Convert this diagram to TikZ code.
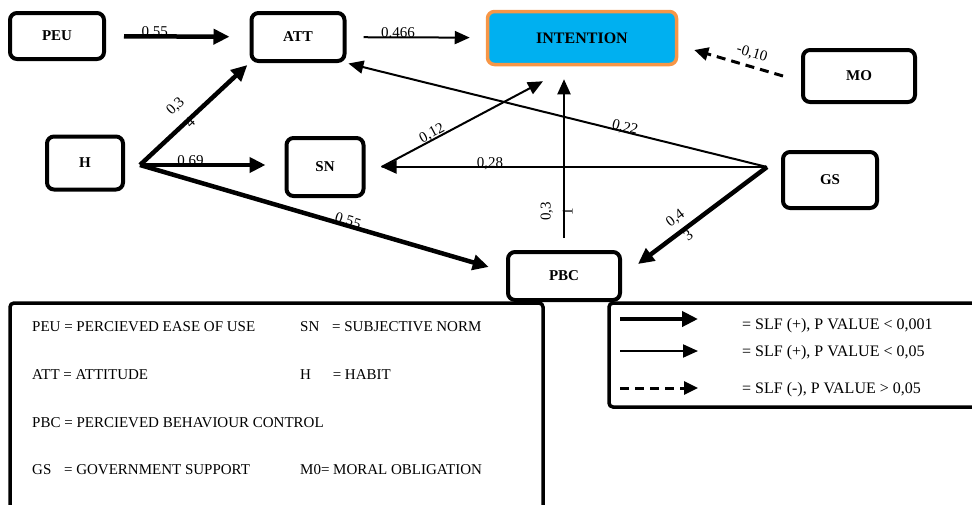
\documentclass[tikz,border=0pt]{standalone}
\usepackage{fontspec}
\setmainfont{Liberation Serif}
\usetikzlibrary{arrows.meta, positioning, calc}

\definecolor{intfill}{RGB}{0,176,240}
\definecolor{intedge}{RGB}{247,150,70}

\tikzset{
  construct/.style={draw, line width=4pt, rounded corners=7pt, inner sep=0pt,
    font=\fontsize{15}{18}\selectfont\bfseries},
  strong/.style={line width=4.5pt, -{Triangle[length=16pt,width=15pt]}},
  weak/.style={line width=2pt, -{Triangle[length=15pt,width=13pt]}},
  insig/.style={line width=3pt, dash pattern=on 9pt off 6pt, -{Triangle[length=14pt,width=13pt]}},
  coef/.style={font=\fontsize{15}{18}\selectfont, inner sep=0pt, sloped, anchor=base},
  split/.style={coef, anchor=center, yshift=6pt},
  keytext/.style={font=\fontsize{15}{18}\selectfont, anchor=west, inner sep=0pt},
  keybox/.style={line width=3.5pt, rounded corners=4pt},
}

\begin{document}
\begin{tikzpicture}[x=1pt, y=-1pt]
    \useasboundingbox (0,0) rectangle (972,504);

    % Constructs
    \node[construct, minimum width=94pt, minimum height=46pt] (PEU) at (57,36) {PEU};
    \node[construct, minimum width=93pt, minimum height=48pt] (ATT) at (298,37) {ATT};
    \node[construct, draw=intedge, fill=intfill, line width=3.5pt, font=\fontsize{16}{19}\selectfont\bfseries,
          minimum width=189pt, minimum height=53pt] (INT) at (582,38) {INTENTION};
    \node[construct, minimum width=112pt, minimum height=52pt] (MO) at (859,76) {MO};
    \node[construct, minimum width=76pt, minimum height=53pt] (H) at (85,163) {H};
    \node[construct, minimum width=77pt, minimum height=58pt] (SN) at (325,167) {SN};
    \node[construct, minimum width=94pt, minimum height=56pt] (GS) at (830,180) {GS};
    \node[construct, minimum width=112pt, minimum height=48pt] (PBC) at (564,276) {PBC};

    % Branch points
    \coordinate (Hhub) at (140,165);
    \coordinate (GShub) at (767,167);

    % Paths
    \draw[strong, shorten <=18pt, shorten >=20pt] (PEU) -- node[coef, pos=.34] {0,55} (ATT);
    \draw[weak, shorten <=17pt, shorten >=16pt] (ATT) -- node[coef, pos=.37] {0.466} (INT);
    \draw[insig] ([xshift=-18pt]MO.west) -- node[coef, pos=.39, yshift=9pt] {-0,10} ([shift={(16pt,-12pt)}]INT.east);

    \draw[strong, shorten >=3pt] (Hhub) -- node[split, pos=.44, yshift=1pt]
        {\begin{tabular}{@{}c@{}}0,3\\[4pt]4\end{tabular}} (ATT.south west);
    \draw[strong, shorten >=19pt] (Hhub) -- node[coef, pos=.35] {0.69} (Hhub -| SN.west);
    \draw[strong, shorten >=18pt] (Hhub) -- node[coef, pos=.565] {0,55} ([yshift=4pt]PBC.west);

    \draw[weak, shorten >=2pt] (GShub) -- node[coef, pos=.34] {0,22} (ATT.south east);
    \draw[weak, shorten >=16pt] (GShub) -- node[coef, pos=.69] {0,28} (GShub -| SN.east);
    \draw[strong, shorten >=20pt] (GShub) -- node[split, pos=.573, yshift=-3.5pt]
        {\begin{tabular}{@{}c@{}}0,4\\[4pt]3\end{tabular}} (PBC.east);

    \draw[weak] ([xshift=16pt]SN.east) -- node[coef, pos=.33, yshift=2pt] {0,12} ([shift={(-39pt,-15pt)}]INT.south);
    \draw[weak, shorten <=12pt, shorten >=13pt] (PBC.north) -- node[split, pos=.21]
        {\begin{tabular}{@{}c@{}}0,3\\[4pt]1\end{tabular}} (PBC.north |- INT.south);

    % Key of abbreviations
    \draw[keybox] (10,303) rectangle (543,530);
    \node[keytext] (kPEU) at (32,327) {PEU = PERCIEVED EASE OF USE};
    \node[keytext] (kSN) at (300,327) {SN\hspace{9pt} = SUBJECTIVE NORM};
    \node[keytext] (kATT) at (32,375) {ATT = ATTITUDE};
    \node[keytext] (kH) at (300,375) {H\hspace{18pt} = HABIT};
    \node[keytext] (kPBC) at (32,423) {PBC = PERCIEVED BEHAVIOUR CONTROL};
    \node[keytext] (kGS) at (32,470) {GS\hspace{9pt} = GOVERNMENT SUPPORT};
    \node[keytext] (kMO) at (300,470) {M0= MORAL OBLIGATION};

    % Key of arrows
    \draw[keybox] (609,303) rectangle (990,407);
    \node[keytext, font=\fontsize{16}{19}\selectfont] (kStrong) at (742,326) {= SLF (+), P VALUE < 0,001};
    \node[keytext, font=\fontsize{16}{19}\selectfont] (kWeak) at (742,353) {= SLF (+), P VALUE < 0,05};
    \node[keytext, font=\fontsize{16}{19}\selectfont] (kInsig) at (742,390) {= SLF (-), P VALUE > 0,05};
    \draw[strong] ([shift={(-122pt,7pt)}]kStrong.west) -- ([shift={(-44pt,7pt)}]kStrong.west);
    \draw[weak] ([shift={(-122pt,2pt)}]kWeak.west) -- ([shift={(-44pt,2pt)}]kWeak.west);
    \draw[insig] ([shift={(-122pt,2pt)}]kInsig.west) -- ([shift={(-44pt,2pt)}]kInsig.west);
\end{tikzpicture}
\end{document}
